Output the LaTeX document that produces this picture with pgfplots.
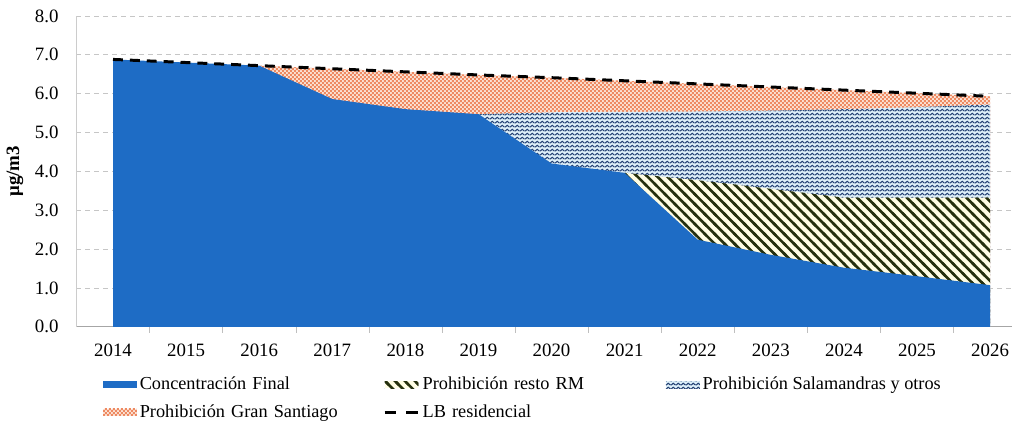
\documentclass[border=0pt]{standalone}
\usepackage{pgfplots}
\pgfplotsset{compat=1.18}
\usepackage{fontspec}
\setmainfont{Liberation Serif}
\usetikzlibrary{patterns}

\definecolor{blueC}{HTML}{1E6CC5}
\definecolor{chkfg}{HTML}{EE8A62}
\definecolor{chkbg}{HTML}{FBE2D4}
\definecolor{wavfg}{HTML}{223F72}
\definecolor{wavbg}{HTML}{DDEFF9}
\definecolor{strfg}{HTML}{25300E}
\definecolor{strbg}{HTML}{FFFDE4}

\pgfdeclarepatternformonly{chk}{\pgfqpoint{0pt}{0pt}}{\pgfqpoint{2pt}{2pt}}{\pgfqpoint{2pt}{2pt}}{%
 \pgfpathrectangle{\pgfqpoint{0pt}{0pt}}{\pgfqpoint{1pt}{1pt}}%
 \pgfpathrectangle{\pgfqpoint{1pt}{1pt}}{\pgfqpoint{1pt}{1pt}}%
 \pgfusepath{fill}}

\pgfdeclarepatternformonly{wav}{\pgfqpoint{0pt}{0pt}}{\pgfqpoint{2.6pt}{2.1pt}}{\pgfqpoint{2.6pt}{2.1pt}}{%
 \pgfsetlinewidth{0.6pt}%
 \pgfpathmoveto{\pgfqpoint{0pt}{0.5pt}}%
 \pgfpathcurveto{\pgfqpoint{0.48pt}{0.5pt}}{\pgfqpoint{0.82pt}{1.6pt}}{\pgfqpoint{1.3pt}{1.6pt}}%
 \pgfpathcurveto{\pgfqpoint{1.78pt}{1.6pt}}{\pgfqpoint{2.12pt}{0.5pt}}{\pgfqpoint{2.6pt}{0.5pt}}%
 \pgfusepath{stroke}}

\pgfdeclarepatternformonly{nwl}{\pgfqpoint{-1pt}{-1pt}}{\pgfqpoint{6pt}{6pt}}{\pgfqpoint{5pt}{5pt}}{%
 \pgfsetlinewidth{1.3pt}%
 \pgfpathmoveto{\pgfqpoint{-1pt}{6pt}}\pgfpathlineto{\pgfqpoint{6pt}{-1pt}}%
 \pgfusepath{stroke}}

\begin{document}
\begin{tikzpicture}
\begin{axis}[
 scale only axis, width=471pt, height=156.5pt,
 xmin=2013.5, xmax=2026.3, ymin=0, ymax=8,
 xtick={2014,2015,...,2026},
 xticklabels={2014,2015,2016,2017,2018,2019,2020,2021,2022,2023,2024,2025,2026},
 minor xtick={2014.5,2015.5,...,2025.5},
 ytick={0,1,...,8},
 /pgf/number format/fixed, /pgf/number format/fixed zerofill, /pgf/number format/precision=1,
 /pgf/number format/assume math mode=true,
 ymajorgrids, major grid style={draw=gray!45, dash pattern=on 2.5pt off 2pt},
 axis x line*=bottom, axis y line*=left,
 x axis line style={draw=gray!70}, y axis line style={draw=gray!40},
 major tick length=0pt, minor tick length=3pt, tick align=outside,
 minor tick style={draw=gray!50},
 tick label style={font=\fontsize{9.5}{11}\selectfont},
 xticklabel style={yshift=-5pt},
 yticklabel style={xshift=-5.5pt},
 ylabel={μg/m3}, ylabel style={font=\fontsize{9.5}{11}\selectfont\bfseries, yshift=-1pt},
 legend columns=3, legend cell align=left,
 legend style={at={(0.028,-0.150)}, anchor=north west, draw=none, inner sep=0pt,
   font=\fontsize{9.2}{11}\selectfont, row sep=3pt,
   nodes={inner sep=1.5pt},
   column sep=0pt,
   /tikz/column 2/.style={text width=121pt},
   /tikz/column 4/.style={text width=121pt}},
 legend image code/.code={\fill[#1] (0pt,-1.8pt) rectangle (17pt,1.8pt);},
]
\addlegendimage{draw=none, fill=blueC}
\addlegendentry{Concentración Final}
\addlegendimage{draw=none, fill=strbg, postaction={pattern=nwl, pattern color=strfg}}
\addlegendentry{Prohibición resto RM}
\addlegendimage{draw=none, fill=wavbg, postaction={pattern=wav, pattern color=wavfg}}
\addlegendentry{Prohibición Salamandras y otros}
\addlegendimage{draw=none, fill=chkbg, postaction={pattern=chk, pattern color=chkfg}}
\addlegendentry{Prohibición Gran Santiago}
\addlegendimage{legend image code/.code={\draw[black, line width=1.4pt, dash pattern=on 6pt off 5pt] (0pt,0pt) -- (17pt,0pt);}}
\addlegendentry{LB residencial}

% Prohibicion Gran Santiago (top = LB residencial)
\addplot[forget plot, draw=none, fill=chkbg, postaction={pattern=chk, pattern color=chkfg}]
 coordinates {(2016,6.72)(2017,6.64)(2018,6.56)(2019,6.48)(2020,6.41)(2021,6.33)(2022,6.25)(2023,6.17)(2024,6.09)(2025,6.01)(2026,5.93)} \closedcycle;
% Prohibicion Salamandras y otros (top)
\addplot[forget plot, draw=none, fill=wavbg, postaction={pattern=wav, pattern color=wavfg}]
 coordinates {(2019,5.47)(2020,5.52)(2021,5.53)(2022,5.54)(2023,5.56)(2024,5.60)(2025,5.65)(2026,5.72)} \closedcycle;
% Prohibicion resto RM (top)
\addplot[forget plot, draw=none, fill=strbg, postaction={pattern=nwl, pattern color=strfg}]
 coordinates {(2021,3.96)(2022,3.77)(2023,3.55)(2024,3.32)(2025,3.32)(2026,3.32)} \closedcycle;
% Concentracion Final
\addplot[forget plot, draw=none, fill=blueC]
 coordinates {(2014,6.88)(2015,6.80)(2016,6.72)(2017,5.86)(2018,5.60)(2019,5.47)(2020,4.20)(2021,3.96)(2022,2.24)(2023,1.85)(2024,1.52)(2025,1.30)(2026,1.07)} \closedcycle;
% LB residencial
\addplot[forget plot, black, line width=1.5pt, dash pattern=on 5pt off 3.5pt]
 coordinates {(2014,6.88)(2015,6.80)(2016,6.72)(2017,6.64)(2018,6.56)(2019,6.48)(2020,6.41)(2021,6.33)(2022,6.25)(2023,6.17)(2024,6.09)(2025,6.01)(2026,5.93)};
\end{axis}
\path (-35pt,-46pt) rectangle (474pt,164.5pt);
\end{tikzpicture}
\end{document}
